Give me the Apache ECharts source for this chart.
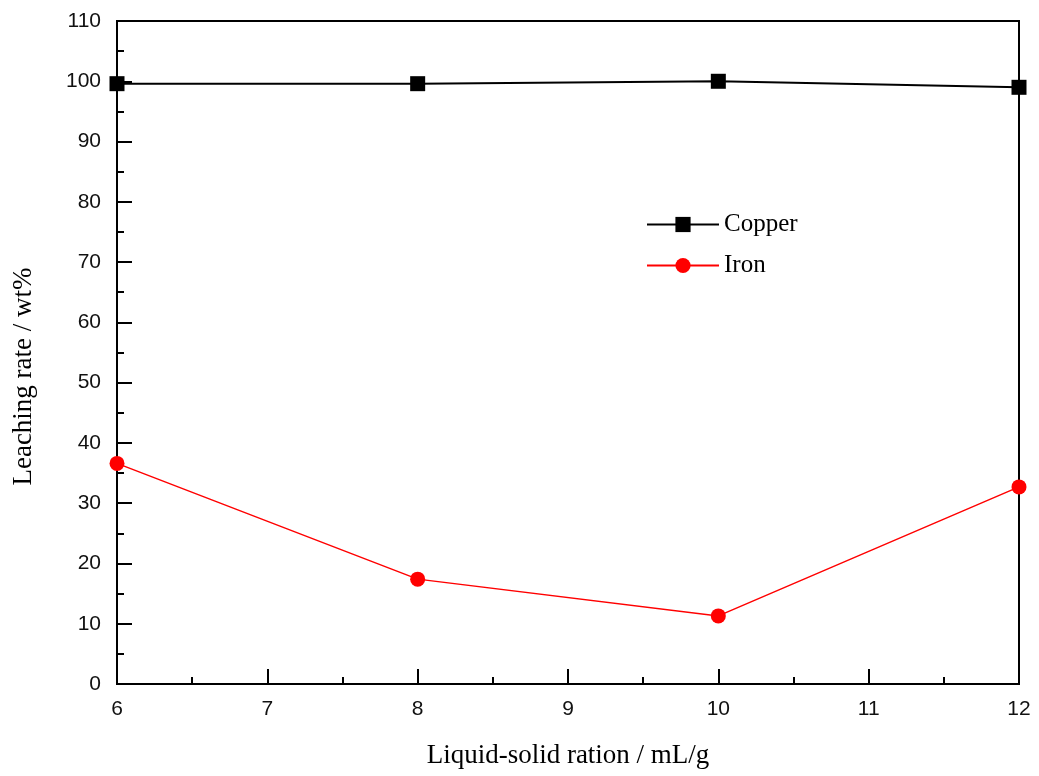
<!DOCTYPE html>
<html>
<head>
<meta charset="utf-8">
<script src="https://cdn.jsdelivr.net/npm/echarts@6/dist/echarts.min.js"></script>
<style>html,body{margin:0;padding:0;background:#fff}#c{width:1039px;height:776px}</style>
</head>
<body>
<div id="c"></div>
<script>
const ratios = [6, 8, 10, 12];
const copper = [99.6, 99.6, 100.0, 99.0];
const iron = [36.6, 17.4, 11.3, 32.7];
const seriesNames = ['Copper', 'Iron'];

const chart = echarts.init(document.getElementById('c'));
const tickLabel = {color: '#111', fontFamily: 'Liberation Sans', fontSize: 21};
chart.setOption({
  animation: false,
  grid: {left: 117, right: 20, top: 21, bottom: 92, show: true, borderColor: '#000', borderWidth: 2},
  legend: {
    orient: 'vertical', left: 641, top: 207, itemWidth: 72, itemHeight: 19, itemGap: 16,
    textStyle: {fontFamily: 'Liberation Serif', fontSize: 25, color: '#000'},
    data: seriesNames
  },
  xAxis: {
    type: 'value', min: 6, max: 12, interval: 1,
    name: 'Liquid-solid ration / mL/g', nameLocation: 'middle', nameGap: 58,
    nameTextStyle: {fontFamily: 'Liberation Serif', fontSize: 27, color: '#000'},
    axisLine: {lineStyle: {color: '#000', width: 2}},
    axisTick: {inside: true, length: 15, lineStyle: {color: '#000', width: 2}},
    minorTick: {show: true, splitNumber: 2, length: 7, lineStyle: {color: '#000', width: 2}},
    axisLabel: Object.assign({margin: 15}, tickLabel),
    splitLine: {show: false}
  },
  yAxis: {
    type: 'value', min: 0, max: 110, interval: 10,
    name: 'Leaching rate / wt%', nameLocation: 'middle', nameGap: 80,
    nameTextStyle: {fontFamily: 'Liberation Serif', fontSize: 27, color: '#000', padding: [0, 48, 0, 0]},
    axisLine: {lineStyle: {color: '#000', width: 2}},
    axisTick: {inside: true, length: 15, lineStyle: {color: '#000', width: 2}},
    minorTick: {show: true, splitNumber: 2, length: 7, lineStyle: {color: '#000', width: 2}},
    axisLabel: Object.assign({margin: 16}, tickLabel),
    splitLine: {show: false}
  },
  series: [
    {
      name: seriesNames[0], type: 'line', data: ratios.map((x, i) => [x, copper[i]]),
      symbol: 'rect', symbolSize: 15, color: '#000',
      lineStyle: {color: '#000', width: 2}, itemStyle: {color: '#000'}
    },
    {
      name: seriesNames[1], type: 'line', data: ratios.map((x, i) => [x, iron[i]]),
      symbol: 'circle', symbolSize: 15, color: '#ff0000',
      lineStyle: {color: '#ff0000', width: 1.5}, itemStyle: {color: '#ff0000'}
    }
  ]
});
</script>
</body>
</html>
